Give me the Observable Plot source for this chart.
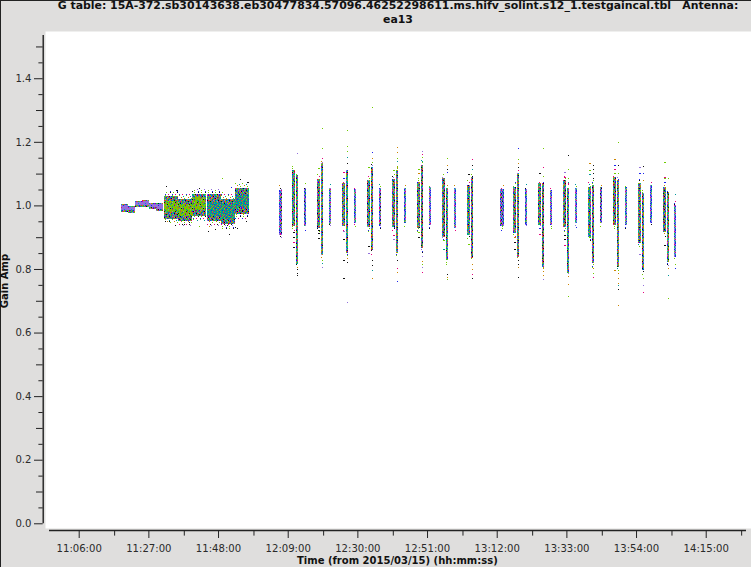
<!DOCTYPE html>
<html><head><meta charset="utf-8">
<script src="https://cdn.jsdelivr.net/npm/d3@7"></script>
<script src="https://cdn.jsdelivr.net/npm/@observablehq/plot@0.6"></script>
<style>
html,body{margin:0;padding:0;background:#dfdedd}
#wrap{position:relative;width:751px;height:567px;overflow:hidden;background:#dfdedd;font-family:"DejaVu Sans",sans-serif;color:#111}
#wrap svg{display:block;background:transparent;position:absolute;left:0;top:0}
#edge{position:absolute;left:0;top:0;width:751px;height:567px;border-left:1px solid #222;border-top:1px solid #222;box-sizing:border-box;pointer-events:none}
#title{position:absolute;left:0;top:-1px;width:796px;text-align:center;font-weight:bold;font-size:10.9px;line-height:13.5px;white-space:pre-wrap}
#xlab{position:absolute;left:297px;top:555px;font-weight:bold;font-size:10px;line-height:12px;white-space:nowrap}
#ylab{position:absolute;left:5px;top:281px;font-weight:bold;font-size:10px;line-height:12px;white-space:nowrap;transform:translate(-50%,-50%) rotate(-90deg)}
</style></head><body>
<div id="wrap"><div id="edge"></div></div>
<script>
// time = minutes after 00:00 on 2015/03/15, value = gain amplitude
const titleText = "G table: 15A-372.sb30143638.eb30477834.57096.46252298611.ms.hifv_solint.s12_1.testgaincal.tbl   Antenna:\nea13";
const xLabel = "Time (from 2015/03/15) (hh:mm:ss)";
const yLabel = "Gain Amp";
const xTicks = [666,687,708,729,750,771,792,813,834,855];
const xTickLabels = ["11:06:00","11:27:00","11:48:00","12:09:00","12:30:00","12:51:00","13:12:00","13:33:00","13:54:00","14:15:00"];
const xMinor = [676.5,697.5,718.5,739.5,760.5,781.5,802.5,823.5,844.5,865.5];
const yTicks = [0,0.2,0.4,0.6,0.8,1.0,1.2,1.4];
const yMid = [0.1,0.3,0.5,0.7,0.9,1.1,1.3,1.5];
const yMinor = [0.05,0.15,0.25,0.35,0.45,0.55,0.65,0.75,0.85,0.95,1.05,1.15,1.25,1.35,1.45];

// first calibrator blocks
const purpleStart = [678.57,680.68,682.79,684.9,687.0,689.12];
const purpleEnd   = [680.68,682.79,684.9,687.0,689.12,691.23];
const purpleLow   = [0.979,0.976,0.995,0.995,0.989,0.982];
const purpleHigh  = [1.004,0.998,1.014,1.017,1.008,1.008];
const purpleCoreLow  = [0.986,0.984,1.000,1.000,0.995,0.990];
const purpleCoreHigh = [1.000,0.995,1.010,1.013,1.004,1.004];
const blockStart  = [691.53,695.75,699.97,704.49,708.71,712.93];
const blockEnd    = [695.75,699.97,704.19,708.71,712.93,717.15];
const blockLow    = [0.958,0.952,0.968,0.952,0.942,0.974];
const blockHigh   = [1.029,1.020,1.035,1.035,1.020,1.054];
const coreLow     = [0.979,0.967,0.986,0.967,0.958,0.995];
const coreHigh    = [1.014,1.004,1.026,1.011,1.004,1.033];
const coreKind    = ["green","green","green","teal","teal","teal"];

// narrow scans
const scanTime = [726.65,730.57,731.62,734.03,738.10,739.16,741.57,745.64,746.69,749.10,753.18,754.23,756.64,760.71,761.77,764.18,768.25,769.30,771.71,775.78,776.84,779.25,783.32,784.37,793.42,797.18,798.24,800.65,804.72,805.77,808.19,812.26,813.31,815.72,819.79,820.85,823.26,827.33,828.38,830.80,834.86,835.92,838.33,842.40,843.45,845.56];
const scanLow  = [0.907,0.935,0.816,0.935,0.929,0.844,0.942,0.935,0.850,0.945,0.932,0.860,0.935,0.932,0.850,0.945,0.929,0.866,0.938,0.900,0.828,0.929,0.907,0.835,0.935,0.913,0.838,0.938,0.938,0.806,0.938,0.932,0.787,0.945,0.900,0.819,0.945,0.938,0.806,0.938,0.882,0.797,0.945,0.916,0.822,0.838];
const scanHigh = [1.048,1.111,1.096,1.055,1.083,1.133,1.055,1.070,1.111,1.052,1.080,1.121,1.055,1.083,1.111,1.055,1.074,1.127,1.058,1.086,1.055,1.055,1.064,1.089,1.052,1.058,1.102,1.052,1.070,1.070,1.048,1.080,1.055,1.055,1.058,1.064,1.058,1.089,1.080,1.058,1.070,1.039,1.064,1.058,1.039,1.001];
const scanKind = "cmmcmmcmmcmmcmmcmmcmmcmmcmmcmmcmmcmmcmmcmmcmmc";
const scanSpan = [0.95,0.95,0.7,0.7,0.95,0.7,0.7,0.95,0.7,0.7,0.95,0.7,0.7,0.95,0.7,0.7,0.95,0.7,0.7,0.95,0.7,0.7,0.95,0.7,0.95,0.95,0.7,0.7,0.95,0.7,0.7,0.95,0.7,0.7,0.95,0.7,0.7,0.95,0.7,0.7,0.95,0.7,0.7,0.95,0.7,0.7];

// individually visible points
const outTime = [730.57,730.57,730.57,730.57,731.62,731.62,731.62,731.62,731.62,738.10,738.10,738.10,738.10,739.16,739.16,739.16,739.16,739.16,739.16,745.64,745.64,745.64,745.64,745.64,745.64,746.69,746.69,746.69,746.69,746.69,746.69,746.69,746.69,753.18,753.18,753.18,754.23,754.23,754.23,754.23,754.23,754.23,754.23,754.23,753.9,760.71,760.71,760.71,761.77,761.77,761.77,761.77,761.77,761.77,761.77,761.77,761.77,768.25,768.25,768.25,768.25,769.30,769.30,769.30,769.30,769.30,769.30,769.30,769.30,769.30,775.78,775.78,776.84,776.84,776.84,776.84,776.84,776.84,776.84,783.32,783.32,784.37,784.37,784.37,784.37,784.37,784.37,784.37,784.37,797.18,797.18,797.18,798.24,798.24,798.24,798.24,798.24,798.24,798.24,798.24,804.72,804.72,804.72,805.77,805.77,805.77,805.77,805.77,805.77,805.77,812.26,812.26,812.26,812.26,812.26,813.31,813.31,813.31,813.31,813.31,813.31,813.31,813.31,819.79,819.79,819.79,819.79,820.85,820.85,820.85,820.85,820.85,820.85,820.85,827.33,827.33,827.33,827.33,827.33,828.38,828.38,828.38,828.38,828.38,828.38,828.38,828.38,828.38,828.38,834.86,834.86,834.86,835.92,835.92,835.92,835.92,835.92,835.92,835.92,842.40,842.40,842.40,842.40,842.40,843.45,843.45,843.45,843.45,843.45,843.45,843.45,845.56,845.56,845.56,845.56,692.0,695.3,700.0,702.1,691.8,693.0,694.8,697.6,699.1,702.0,705.0,708.9,711.7,709.0,704.9,705.5,707.0,711.0,710.4,713.0,713.6,716.7,714.5,716.3,715.0];
const outGain = [0.885,0.900,0.916,0.869,1.165,0.806,0.800,0.787,0.781,1.118,0.923,0.913,0.897,1.243,1.181,1.137,0.828,0.819,0.806,1.086,1.105,0.920,0.894,0.828,0.772,1.237,1.187,1.171,1.152,1.133,0.835,0.822,0.696,1.121,0.872,0.850,1.168,1.149,1.137,0.828,0.813,0.797,0.772,1.309,0.860,1.111,0.907,0.894,1.184,1.168,1.149,1.140,1.121,0.828,0.803,0.790,0.762,1.115,1.102,0.916,0.900,1.171,1.162,1.152,1.140,0.841,0.825,0.816,0.806,0.790,0.891,0.863,1.149,1.127,1.115,1.105,0.784,0.775,0.769,1.099,0.879,1.146,1.127,1.115,1.092,0.816,0.800,0.784,0.772,0.900,0.885,0.863,1.181,1.146,1.133,1.121,0.844,0.816,0.806,0.775,1.102,0.929,0.910,1.181,1.121,1.092,0.803,0.781,0.769,0.794,1.105,1.089,0.907,0.894,0.876,1.159,1.115,1.086,1.074,0.778,0.753,0.716,1.069,1.133,1.111,1.099,0.900,1.127,1.115,1.102,1.086,0.803,0.787,0.775,1.146,1.127,1.115,1.102,0.797,1.200,1.127,1.102,1.074,0.787,0.772,0.756,0.749,0.737,0.687,1.121,1.102,0.847,1.124,1.102,1.080,0.772,0.749,0.728,0.794,1.137,1.089,1.086,1.074,0.876,1.086,1.042,0.781,0.803,0.813,0.709,1.017,1.036,1.014,0.803,0.816,1.061,1.048,1.045,1.054,0.950,0.950,0.938,0.941,0.947,0.935,0.935,1.086,1.058,1.042,0.919,0.941,0.925,0.909,0.938,0.932,0.929,1.073,1.083,0.950,0.984,0.967,0.976];
const outColour = "mkkkpokkkgkkkggpgtpbmpkkkgggtkokpgkpbogkktogkgmpoogtokmobgogkpmgtpogpmgtgokbkogkgmktkoomkokkbgokmkokkbmgmgoopopmkkmkggtoogmogtgkkkkogmobmgogkgpoootkopbpkbogpmkgmgbkgotopggtmbgkkkkkkkkkgogbgkkkkkkkkkkkgkkkgk";

const palette = {k:"#111111",b:"#1a22ee",g:"#70cc00",p:"#9370db",t:"#00979a",m:"#e6007e",o:"#cc8400",r:"#d01010",c:"#0090e0",G:"#00c864"};
const tiles = {
  mix:["mgcbotGpgmb","goGmkpbtogc","tbpgmcgGrbo","Gmogtbkpmgt","pcgbGomgtbg","ogmtpgbcGkm","bkGcmotgpbg","gtpobgGmcot","mbgGkctpogb","cogmtbgmGpk","Gpbtogcbgmo","tgmkGpobtcg","obcgmtGgkpb"],
  cool:["pbpGpmpbgpb","gpbpcpgpbtp","pmpbpgkpbpG","bpGptbpmpbp","ppbgpbpGpcp","tpbpmpgbptb","pGpcpbpkpGp","mpbpGptpbpg","pbtpbpmpGpb","gpGpbcpbpmp","pbpmptpGbpt","bpgpbpkpbpG","pcpGpmbptgp"],
  green:["ggmggpgggog","gogggkgbggg","gggpgggmggt","bggggoggggg","ggtgmggpggk","mgggggbgggg","ggkggtgggmg","gpggoggggbg","gggbgggtggo"],
  teal:["ttottmttgot","tgttotbtttt","otttgttottm","ttbttmttttg","gttottttotb","tttmtgttttt","ottttbttott","ttgtottmttg","mttottgttbt"],
  purple:["ppppppp","ppppbpp","ppppppp","ppmpppp","ppppppp","pppppcp"],
  sparse:["..k..g.",".......","m...b..","....g..",".t.....","......o","..g....",".......","k...m..",".p.....",".....g.","..b...."]
};

const scans = scanTime.map((t,i)=>({t,lo:scanLow[i],hi:scanHigh[i],k:scanKind[i],w:scanSpan[i]}));
const purple = purpleStart.map((s,i)=>({s,e:purpleEnd[i],lo:purpleLow[i],hi:purpleHigh[i],cl:purpleCoreLow[i],ch:purpleCoreHigh[i]}));
const blocks = blockStart.map((s,i)=>({s,e:blockEnd[i],lo:blockLow[i],hi:blockHigh[i],cl:coreLow[i],ch:coreHigh[i],k:coreKind[i]}));
const outliers = outTime.map((t,i)=>({t,g:outGain[i],c:palette[outColour[i]]||palette.k}));

const crisp = {shapeRendering:"crispEdges"};
const rectOf = (data,fill,o)=>Plot.rectY(data,{...o,fill,...crisp});
const halfLo = d=>d.t-d.w/2, halfHi = d=>d.t+d.w/2;
const noLabel = ()=>"";

const chart = Plot.plot({
  width:751,height:567,
  marginLeft:45,marginRight:0,marginTop:31,marginBottom:39,
  style:{background:"transparent",fontFamily:"DejaVu Sans",fontSize:"10px",color:"#2a2a2a"},
  x:{domain:[655.66,868.47],axis:null},
  y:{domain:[-0.0148,1.5486],axis:null},
  color:{type:"identity"},
  marks:[
    Plot.frame({fill:"white",stroke:null}),
    rectOf(blocks,"url(#sparse)",{x1:"s",x2:"e",y1:"lo",y2:"hi",insetTop:-5,insetBottom:-5}),
    rectOf(blocks,"url(#mix)",{x1:"s",x2:"e",y1:"lo",y2:"hi"}),
    rectOf(blocks.filter(d=>d.k==="green"),"url(#green)",{x1:"s",x2:"e",y1:"cl",y2:"ch"}),
    rectOf(blocks.filter(d=>d.k==="teal"),"url(#teal)",{x1:"s",x2:"e",y1:"cl",y2:"ch"}),
    rectOf(purple,"url(#mix)",{x1:"s",x2:"e",y1:"lo",y2:"hi"}),
    rectOf(purple,"url(#purple)",{x1:"s",x2:"e",y1:"cl",y2:"ch"}),
    rectOf(scans,"url(#sparse)",{x1:halfLo,x2:halfHi,y1:"lo",y2:"hi",insetTop:-5,insetBottom:-5}),
    rectOf(scans.filter(d=>d.k==="m"),"url(#mix)",{x1:halfLo,x2:halfHi,y1:"lo",y2:"hi"}),
    rectOf(scans.filter(d=>d.k==="c"),"url(#cool)",{x1:halfLo,x2:halfHi,y1:"lo",y2:"hi"}),
    Plot.dot(outliers,{x:"t",y:"g",symbol:"square",r:0.62,fill:"c",stroke:null,...crisp}),
    Plot.ruleX([654.97],{y1:0,y2:1.536,stroke:"#222",strokeWidth:1.4}),
    Plot.ruleY([-0.0211],{x1:656.87,x2:866.96,stroke:"#222",strokeWidth:1.4}),
    Plot.axisX({anchor:"bottom",ticks:xTicks,tickSize:8,tickPadding:6,dx:-0.6,dy:2,label:null,tickFormat:d=>xTickLabels[xTicks.indexOf(d)],fontSize:10.1,stroke:"#222"}),
    Plot.axisX({anchor:"bottom",ticks:xMinor,tickSize:5.6,dy:2,label:null,tickFormat:noLabel,stroke:"#222"}),
    Plot.axisY({anchor:"left",ticks:yTicks,tickSize:8.7,tickPadding:3,dx:-2.3,label:null,tickFormat:d=>d.toFixed(1),fontSize:10.1,stroke:"#222"}),
    Plot.axisY({anchor:"left",ticks:yMid,tickSize:6.7,dx:-2.3,label:null,tickFormat:noLabel,stroke:"#222"}),
    Plot.axisY({anchor:"left",ticks:yMinor,tickSize:4.3,dx:-2.3,label:null,tickFormat:noLabel,stroke:"#222"})
  ]
});

// pixel textures used as fills for the dense point clouds
const defs = d3.select(chart).insert("defs",":first-child");
for (const [id,rows] of Object.entries(tiles)) {
  const p = defs.append("pattern").attr("id",id).attr("patternUnits","userSpaceOnUse")
    .attr("width",rows[0].length).attr("height",rows.length);
  rows.forEach((row,y)=>[...row].forEach((ch,x)=>{
    if (ch===".") return;
    p.append("rect").attr("x",x).attr("y",y).attr("width",1).attr("height",1)
     .attr("fill",palette[ch]).attr("shape-rendering","crispEdges");
  }));
}

const wrap = document.getElementById("wrap");
wrap.insertBefore(chart,wrap.firstChild);
for (const [id,txt] of [["title",titleText],["xlab",xLabel],["ylab",yLabel]]) {
  const d=document.createElement("div");d.id=id;d.textContent=txt;wrap.appendChild(d);
}
</script></body></html>
